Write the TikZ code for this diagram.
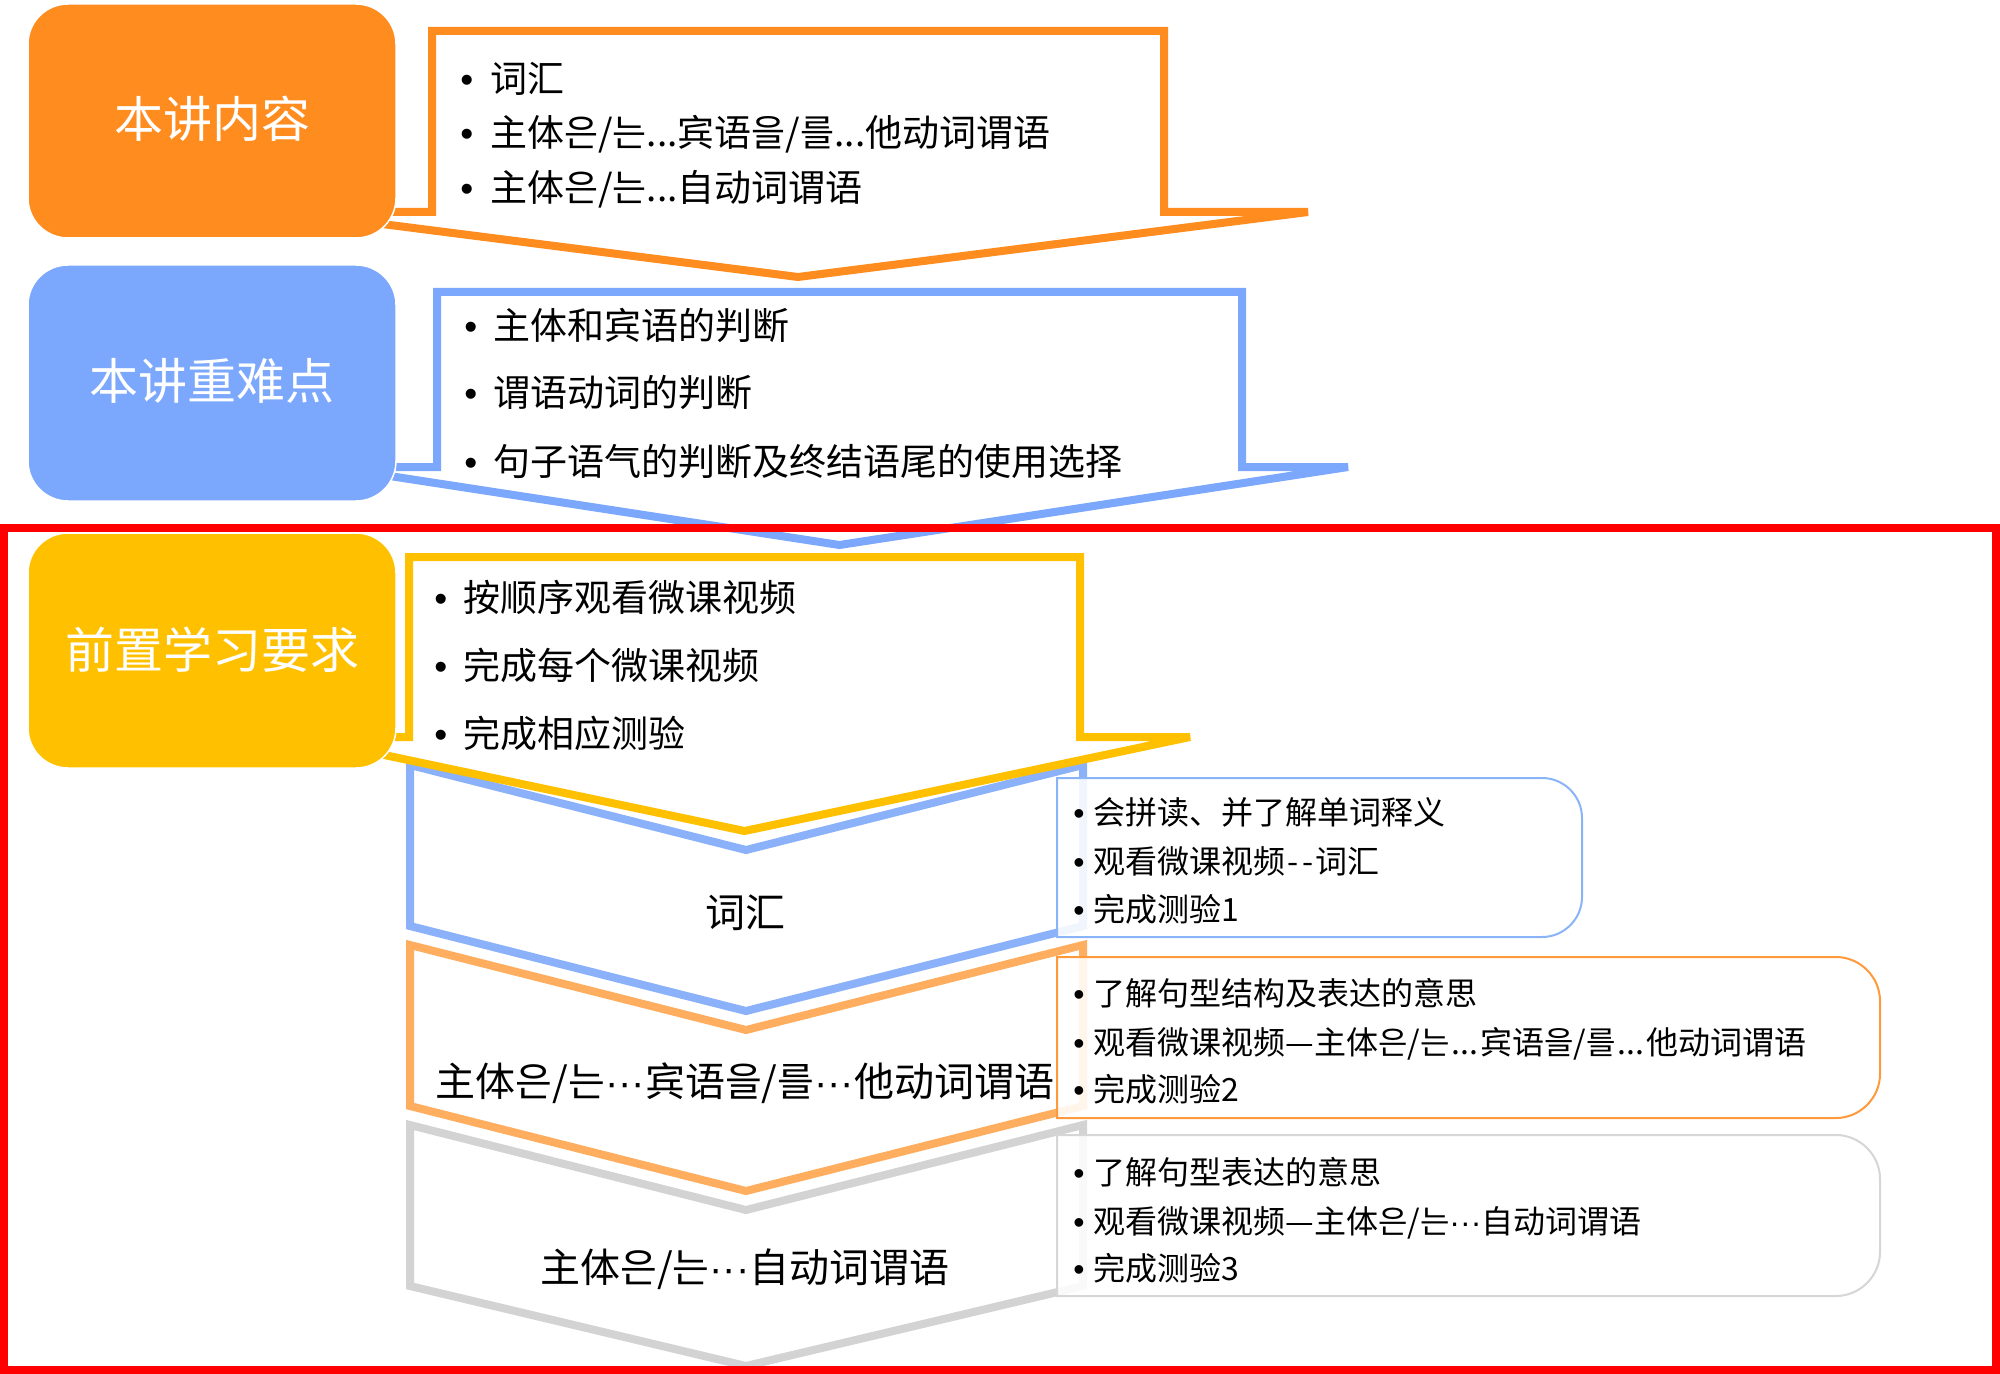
\documentclass[tikz,border=0pt]{standalone}
\usepackage{fontspec}
\setmainfont{Noto Sans CJK SC}
\newfontfamily\bulfont{Liberation Sans}
\definecolor{cOrange}{HTML}{FF8C1F}
\definecolor{cBlue}{HTML}{7BA7FD}
\definecolor{cYellow}{HTML}{FFC000}
\definecolor{chBlue}{HTML}{8AB1F9}
\definecolor{chOrange}{HTML}{FFAD5F}
\definecolor{chGray}{HTML}{D3D3D3}
\definecolor{bxBlue}{HTML}{8AB4F8}
\definecolor{bxOrange}{HTML}{FF9A3C}
\definecolor{bxGray}{HTML}{D6D6D6}
\newcommand\blt[2]{\makebox[#1][l]{\bulfont •}#2}
\newcommand\mdots{{\bulfont ···}}
\tikzset{
  arrowshape/.style={line width=4pt, fill=white, miter limit=4},
  chevshape/.style={line width=4pt, fill=white},
  infobox/.style={line width=1pt, fill=white, fill opacity=0.88},
  titlebox/.style={draw=white, line width=0.75pt, rounded corners=20pt},
  titletxt/.style={inner sep=0pt, anchor=base, text=white, font=\fontsize{24.5pt}{28pt}\selectfont},
  listtxt/.style={inner sep=0pt, anchor=base west, font=\fontsize{18.5pt}{22pt}\selectfont},
  infotxt/.style={inner sep=0pt, anchor=base west, font=\fontsize{16pt}{19pt}\selectfont},
  chevtxt/.style={inner sep=0pt, anchor=base, font=\fontsize{20pt}{24pt}\selectfont},
}
\begin{document}
\begin{tikzpicture}[x=0.5pt, y=-0.5pt]
\useasboundingbox (0,0) rectangle (2000,1374);
\fill[white] (0,0) rectangle (2000,1374);

% chevrons
\draw[chevshape, draw=chGray] (410,1125) -- (746,1210) -- (1083,1125) -- (1083,1286) -- (746,1366) -- (410,1286) -- cycle;
\draw[chevshape, draw=chOrange] (410,945) -- (746,1030) -- (1083,945) -- (1083,1106) -- (746,1191) -- (410,1106) -- cycle;
\draw[chevshape, draw=chBlue] (410,765) -- (746,850) -- (1083,765) -- (1083,926) -- (746,1011) -- (410,926) -- cycle;

% down arrows
\draw[arrowshape, draw=cOrange] (432,31) -- (1164,31) -- (1164,212) -- (1308,212) -- (798,277) -- (288,212) -- (432,212) -- cycle;
\draw[arrowshape, draw=cBlue] (437,292) -- (1242,292) -- (1242,467) -- (1348,467) -- (839.5,545) -- (331,467) -- (437,467) -- cycle;
\draw[arrowshape, draw=cYellow] (409,557) -- (1080,557) -- (1080,737) -- (1190,737) -- (744.5,831) -- (299,737) -- (409,737) -- cycle;

% info boxes
\draw[infobox, draw=bxBlue] (1057,778) -- (1542,778) .. controls (1564,778) and (1582,796) .. (1582,818) -- (1582,897) .. controls (1582,919) and (1564,937) .. (1542,937) -- (1057,937) -- cycle;
\draw[infobox, draw=bxOrange] (1057,957) -- (1836,957) .. controls (1860,957) and (1880,977) .. (1880,1001) -- (1880,1074) .. controls (1880,1098) and (1860,1118) .. (1836,1118) -- (1057,1118) -- cycle;
\draw[infobox, draw=bxGray] (1057,1135) -- (1836,1135) .. controls (1860,1135) and (1880,1155) .. (1880,1179) -- (1880,1252) .. controls (1880,1276) and (1860,1296) .. (1836,1296) -- (1057,1296) -- cycle;

% title boxes
\filldraw[titlebox, fill=cOrange] (28,4) rectangle (396,238);
\filldraw[titlebox, fill=cBlue] (28,265) rectangle (396,501);
\filldraw[titlebox, fill=cYellow] (28,533) rectangle (396,768);

% red frame
\draw[red, line width=4pt] (4,528) rectangle (1996,1370);

% title texts
\node[titletxt] (t1) at (212,138) {本讲内容};
\node[titletxt] (t2) at (212,400) {本讲重难点};
\node[titletxt] (t3) at (212,668) {前置学习要求};

% lists
\node[listtxt] (a1) at (460,93) {\blt{15pt}{词汇}};
\node[listtxt] (a2) at (460,147) {\blt{15pt}{主体은/는...宾语을/를...他动词谓语}};
\node[listtxt] (a3) at (460,202) {\blt{15pt}{主体은/는...自动词谓语}};

\node[listtxt] (b1) at (464,340) {\blt{14.5pt}{主体和宾语的判断}};
\node[listtxt] (b2) at (464,406) {\blt{14.5pt}{谓语动词的判断}};
\node[listtxt] (b3) at (464,475) {\blt{14.5pt}{句子语气的判断及终结语尾的使用选择}};

\node[listtxt] (c1) at (434,611) {\blt{14.5pt}{按顺序观看微课视频}};
\node[listtxt] (c2) at (434,679) {\blt{14.5pt}{完成每个微课视频}};
\node[listtxt] (c3) at (434,747) {\blt{14.5pt}{完成相应测验}};

% chevron labels
\node[chevtxt] (v1) at (745,927) {词汇};
\node[chevtxt] (v2) at (745,1096) {主体은/는\mdots 宾语을/를\mdots 他动词谓语};
\node[chevtxt] (v3) at (745,1282) {主体은/는\mdots 自动词谓语};

% info texts
\node[infotxt] (d1) at (1073,824) {\blt{10pt}{会拼读、并了解单词释义}};
\node[infotxt] (d2) at (1073,873) {\blt{10pt}{观看微课视频\kern1pt-{}\kern2pt-{}\kern1pt词汇}};
\node[infotxt] (d3) at (1073,921) {\blt{10pt}{完成测验1}};

\node[infotxt] (e1) at (1073,1005) {\blt{10pt}{了解句型结构及表达的意思}};
\node[infotxt] (e2) at (1073,1054) {\blt{10pt}{观看微课视频—主体은/는\kern1pt...\kern1pt宾语을/를\kern1pt...\kern1pt他动词谓语}};
\node[infotxt] (e3) at (1073,1101) {\blt{10pt}{完成测验2}};

\node[infotxt] (f1) at (1073,1184) {\blt{10pt}{了解句型表达的意思}};
\node[infotxt] (f2) at (1073,1233) {\blt{10pt}{观看微课视频—主体은/는\mdots 自动词谓语}};
\node[infotxt] (f3) at (1073,1280) {\blt{10pt}{完成测验3}};
\end{tikzpicture}
\end{document}
